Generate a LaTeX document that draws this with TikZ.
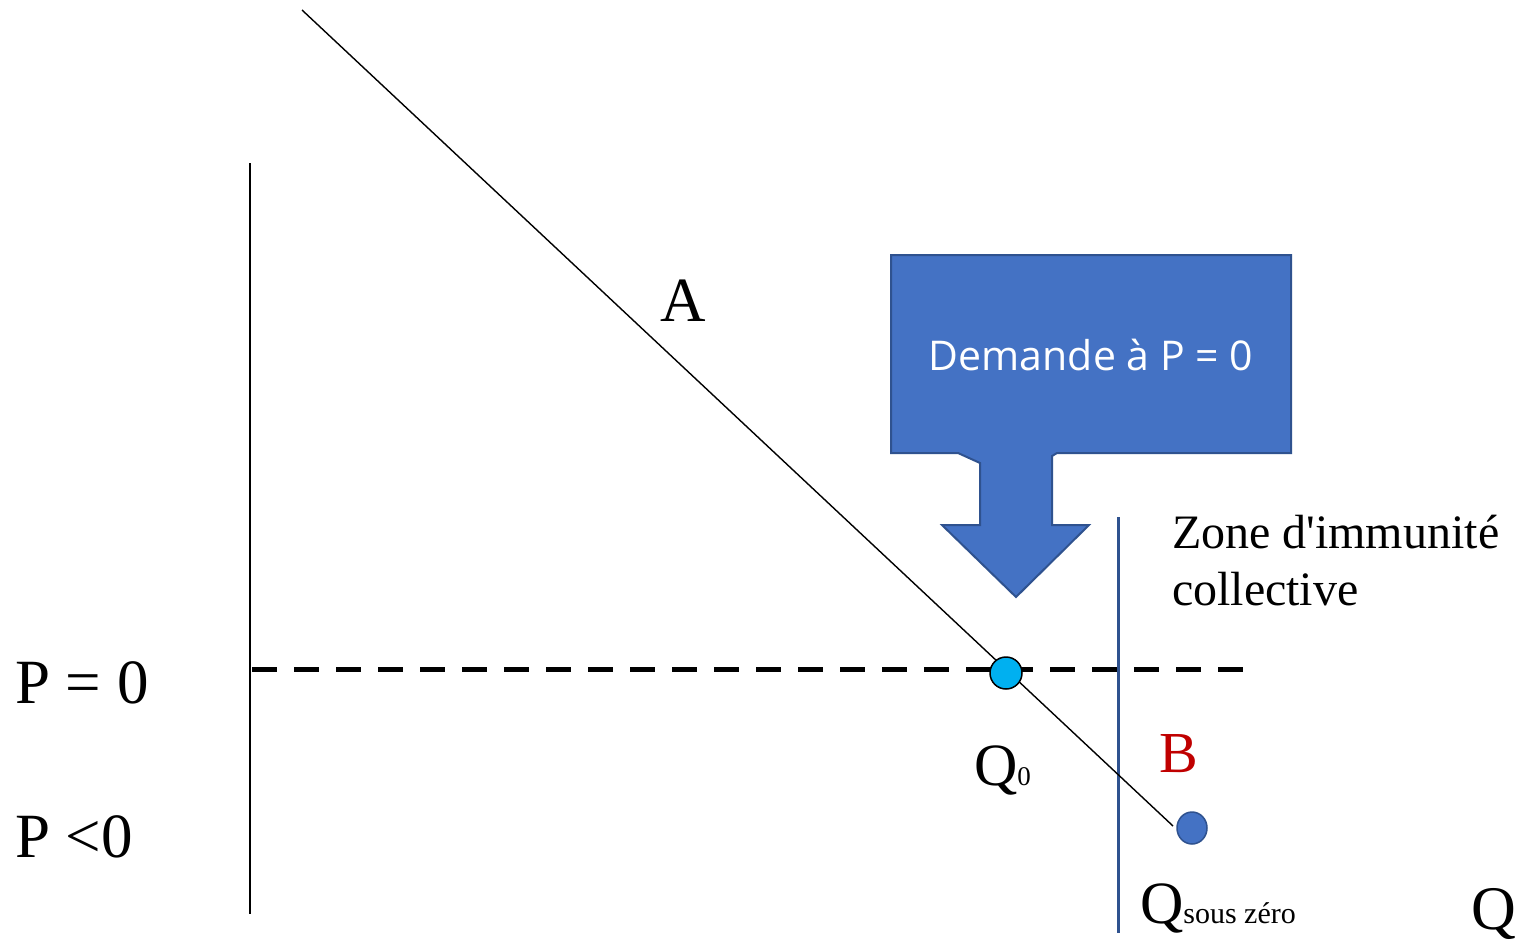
\documentclass[tikz,border=0pt]{standalone}
\usetikzlibrary{shapes.geometric}
\usepackage{fontspec}
\setmainfont{Liberation Serif}[Ligatures=TeXOff]
\newfontfamily\calib{Open Sans}
\definecolor{fillblue}{HTML}{4472C4}
\definecolor{edgeblue}{HTML}{2F528F}
\definecolor{lightblue}{HTML}{00B0F0}
\definecolor{darkred}{HTML}{C00000}
\newcommand{\fs}[1]{\fontsize{#1}{#1}\selectfont}
\begin{document}
\begin{tikzpicture}[x=1pt,y=-1pt,
  lbl/.style={inner sep=0pt,outer sep=0pt,anchor=base west},
  dot/.style={circle,draw,line width=1.5pt,inner sep=0pt},
]
\useasboundingbox[fill=white] (0,0) rectangle (1523,943);
% axes
\coordinate (ax1) at (250,163);
\coordinate (ax2) at (250,914);
\draw[line width=2pt] (ax1) -- (ax2);
\coordinate (d1) at (252,669);
\coordinate (d2) at (1243,669);
\draw[line width=5pt, dash pattern=on 25pt off 17pt] (d1) -- (d2);
% zone line
\coordinate (z1) at (1118,517);
\coordinate (z2) at (1118,933);
\draw[edgeblue, line width=3pt] (z1) -- (z2);
% demand line
\coordinate (a1) at (302,10);
\coordinate (a2) at (1173,826);
\draw[line width=1.4pt] (a1) -- (a2);
% points
\node[dot, fill=lightblue, minimum size=32pt] (q0) at (1006,673) {};
\node[ellipse, draw=edgeblue, line width=1.5pt, inner sep=0pt, fill=fillblue, minimum width=30pt, minimum height=32pt] (bpt) at (1192,828) {};
% callout
\draw[edgeblue, fill=fillblue, line width=2pt, line join=miter]
  (891,255) -- (1291,255) -- (1291,453) -- (1057,453) -- (1052,456) -- (1052,525)
  -- (1089,525) -- (1016,597) -- (942,525) -- (980,525) -- (980,463) -- (958,453)
  -- (891,453) -- cycle;
\node[lbl, anchor=base, text=white] (dem) at (1091,370) {\calib\fs{41}Demande à P = 0};
% labels
\node[lbl] (p0) at (15,703) {\fs{63}P = 0};
\node[lbl] (pn) at (15,857) {\fs{63}P <0};
\node[lbl, anchor=base] (la) at (683,321) {\fs{63}A};
\node[lbl, anchor=base] (lb) at (1179,772) {\color{darkred}\fs{58}B};
\node[lbl] (lq0) at (974,785) {\fs{60}Q\fs{27}0};
\node[lbl] (lqs) at (1140,923) {\fs{60}Q\fs{30}sous zéro};
\node[lbl] (lq) at (1471,929) {\fs{62}Q};
\node[lbl] (z1t) at (1172,548) {\fs{48}Zone d'immunité};
\node[lbl] (z2t) at (1172,605) {\fs{48}collective};
\end{tikzpicture}
\end{document}
